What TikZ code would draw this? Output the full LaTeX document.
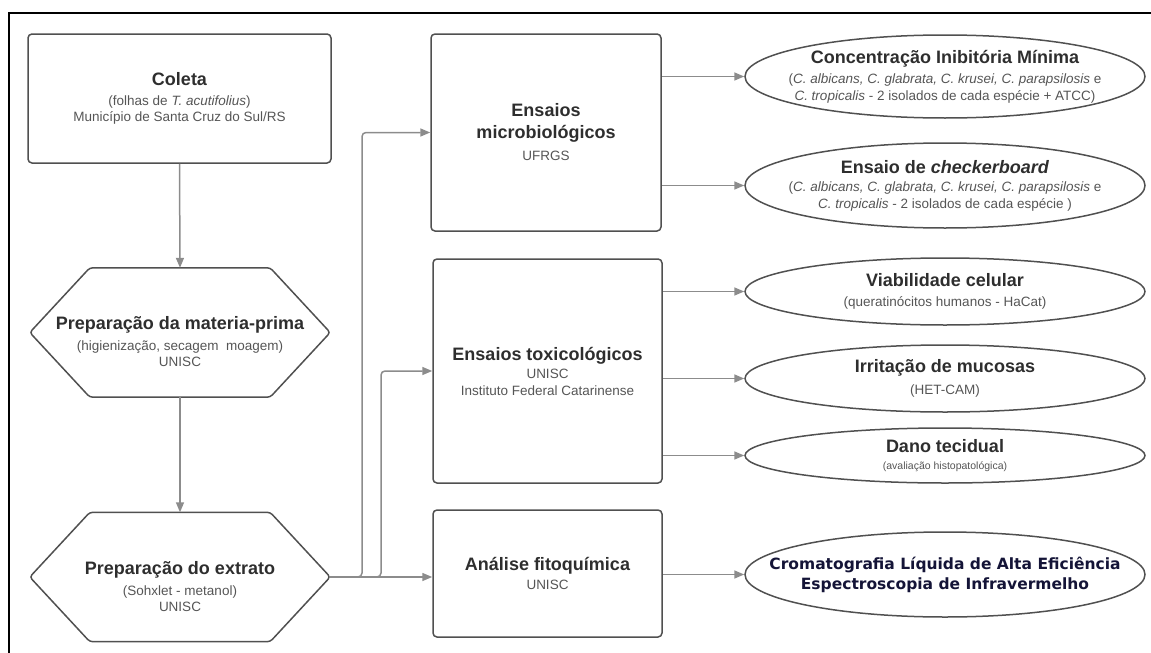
\documentclass[tikz,border=0pt]{standalone}
\usepackage{fontspec}
\setmainfont{Liberation Sans}
\newfontfamily\cromfont{DejaVu Sans}
\usetikzlibrary{arrows.meta,calc,shapes.geometric}
\definecolor{outl}{HTML}{505050}
\definecolor{arr}{HTML}{8C8C8C}
\definecolor{ttl}{HTML}{2E2E2E}
\definecolor{subc}{HTML}{555555}
\definecolor{crom}{RGB}{20,20,55}
\newcommand\ttlf{\fontsize{18}{21}\selectfont\bfseries\color{ttl}}
\newcommand\subfnt{\fontsize{13.5}{16.5}\selectfont\color{subc}}
\newcommand\smallsub{\fontsize{10.5}{13}\selectfont\color{subc}}
\begin{document}
\begin{tikzpicture}[x=1pt,y=-1pt,
  box/.style={draw=outl, line width=1.5pt, rounded corners=4pt, inner sep=0pt, align=center, font=\subfnt},
  hexbb/.style={draw=none, inner sep=0pt, minimum width=300pt, minimum height=129pt},
  hexline/.style={draw=outl, line width=1.5pt, rounded corners=3pt},
  oval/.style={ellipse, draw=outl, line width=1.5pt, minimum width=400pt, inner sep=0pt},
  txt/.style={align=center, inner sep=0pt, font=\subfnt},
  conn/.style={draw=arr, line width=1.5pt, -{Triangle[length=10pt,width=8pt]}, rounded corners=4pt},
  frame/.style={draw=black, line width=1.5pt}]
\useasboundingbox (0,0) rectangle (1151,653);
\draw[frame] (9,653) -- (9,13) -- (1151,13);

% left column
\node[box, minimum width=303pt, minimum height=129pt] (coleta) at (179.5,98.5)
  {{\ttlf Coleta}\\[3pt](folhas de \textit{T. acutifolius})\\Município de Santa Cruz do Sul/RS};

\node[hexbb] (hex1) at (180,332.5) {};
\draw[hexline] (hex1.west) -- ($(hex1.north west)+(60,0)$) -- ($(hex1.north east)+(-60,0)$) -- (hex1.east)
  -- ($(hex1.south east)+(-60,0)$) -- ($(hex1.south west)+(60,0)$) -- cycle;
\node[txt] (hex1t) at (180,342) {{\ttlf Preparação da materia-prima}\\[4pt](higienização, secagem\ \ moagem)\\UNISC};

\node[hexbb] (hex2) at (180,577) {};
\draw[hexline] (hex2.west) -- ($(hex2.north west)+(60,0)$) -- ($(hex2.north east)+(-60,0)$) -- (hex2.east)
  -- ($(hex2.south east)+(-60,0)$) -- ($(hex2.south west)+(60,0)$) -- cycle;
\node[txt] (hex2t) at (180,587) {{\ttlf Preparação do extrato}\\[4pt](Sohxlet - metanol)\\UNISC};

% middle column
\node[box, minimum width=230pt, minimum height=197pt] (micro) at (546,132.5)
  {{\ttlf Ensaios}\\[5pt]{\ttlf microbiológicos}\\[6pt]UFRGS};
\node[box, minimum width=229pt, minimum height=224pt] (tox) at (547.5,371)
  {{\ttlf Ensaios toxicológicos}\\[2pt]UNISC\\Instituto Federal Catarinense};
\node[box, minimum width=229pt, minimum height=127pt] (ana) at (547.5,573.5)
  {{\ttlf Análise fitoquímica}\\[2pt]UNISC};

% right column
\node[oval, minimum height=83pt] (cim) at (945,76.5) {};
\node[txt] (cimt) at (cim.center) {{\ttlf Concentração Inibitória Mínima}\\[4pt]
  (\textit{C. albicans, C. glabrata, C. krusei, C. parapsilosis} e\\
  \textit{C. tropicalis} - 2 isolados de cada espécie + ATCC)};

\node[oval, minimum height=85pt] (chk) at (945,185.5) {};
\node[txt] (chkt) at (chk.center) {{\ttlf Ensaio de \textit{checkerboard}}\\[2pt]
  (\textit{C. albicans, C. glabrata, C. krusei, C. parapsilosis} e\\
  \textit{C. tropicalis} - 2 isolados de cada espécie )};

\node[oval, minimum height=67pt] (viab) at (945,291.5) {};
\node[txt] (viabt) at (viab.center) {{\ttlf Viabilidade celular}\\[4pt](queratinócitos humanos - HaCat)};

\node[oval, minimum height=67pt] (irr) at (945,378.5) {};
\node[txt] (irrt) at (irr.center) {{\ttlf Irritação de mucosas}\\[6pt](HET-CAM)};

\node[oval, minimum height=55pt] (dano) at (945,455.5) {};
\node[txt, font=\smallsub] (danot) at (dano.center) {{\ttlf Dano tecidual}\\[4pt](avaliação histopatológica)};

\node[oval, minimum height=85pt] (crom) at (945,574.5) {};
\node[align=center, inner sep=0pt, font=\cromfont\fontsize{15.5}{20}\selectfont\bfseries\color{crom}] (cromt) at (crom.center)
  {Cromatografia Líquida de Alta Eficiência\\Espectroscopia de Infravermelho};

% connectors
\coordinate (b1) at (362,0);
\coordinate (b2) at (381,0);
\draw[conn] (coleta.south) -- (hex1.north);
\draw[conn] (hex1.south) -- (hex2.north);
\draw[conn] (hex2.east) -- (hex2.east -| ana.west);
\draw[conn] (hex2.east) -- (hex2.east -| b1) -- (b1 |- micro.west) -- (micro.west);
\draw[conn] (hex2.east) -- (hex2.east -| b2) -- (b2 |- tox.west) -- (tox.west);

\draw[conn] (micro.east |- cim.west) -- (cim.west);
\draw[conn] (micro.east |- chk.west) -- (chk.west);
\draw[conn] (tox.east |- viab.west) -- (viab.west);
\draw[conn] (tox.east |- irr.west) -- (irr.west);
\draw[conn] (tox.east |- dano.west) -- (dano.west);
\draw[conn] (ana.east |- crom.west) -- (crom.west);
\end{tikzpicture}
\end{document}
